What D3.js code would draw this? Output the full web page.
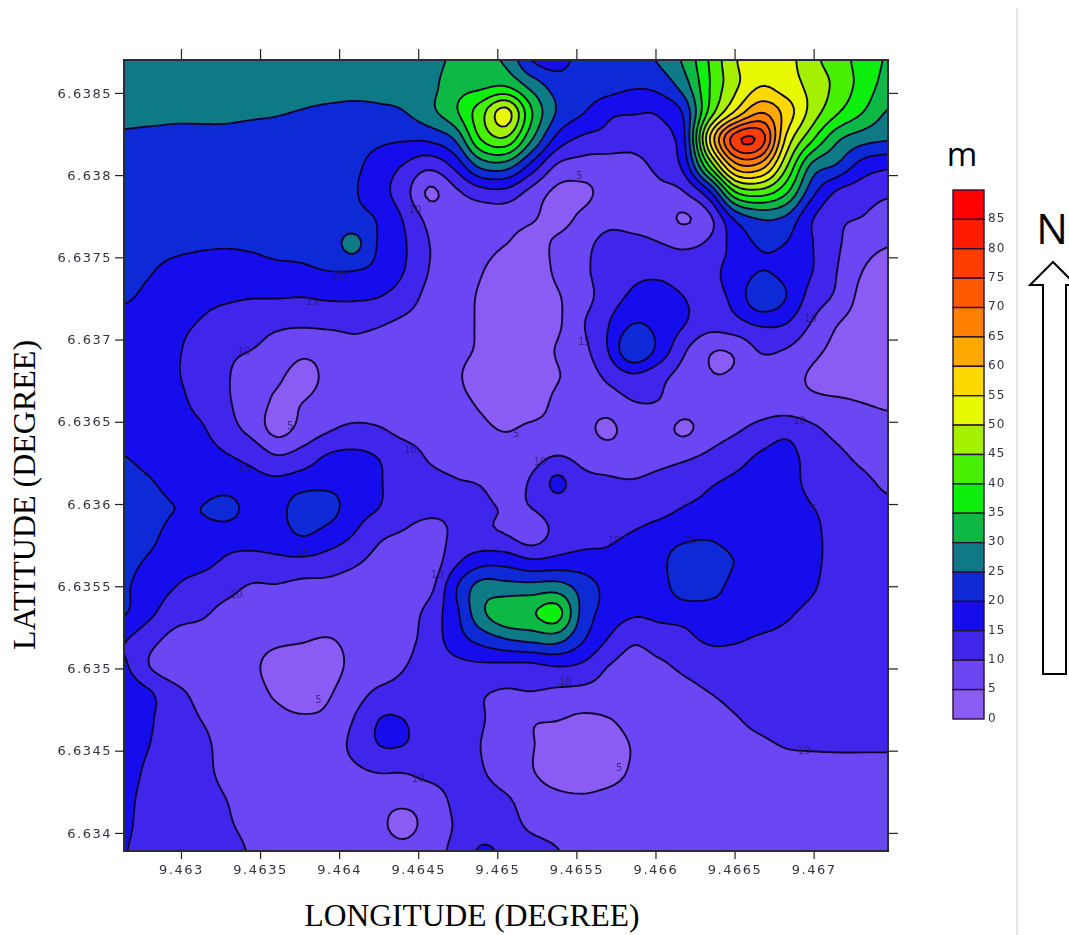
<!DOCTYPE html>
<html>
<head>
<meta charset="utf-8">
<script src="https://cdn.jsdelivr.net/npm/d3@7"></script>
<style>
  body { margin: 0; background: #fff; }
  svg { display: block; }
  .tick text { font-family: "DejaVu Sans", sans-serif; font-size: 13px; letter-spacing: 1.5px; fill: #33333f; }
  .tick line { stroke: #222; stroke-width: 1.2px; }
</style>
</head>
<body>
<svg id="container" width="1069" height="935"></svg>
<script>
// depth values in metres at regular lon/lat nodes (north row first)
var gridValues = [
  [27,27,27,27,27,27,27,27,27,27,27,27,28,31,31,29,20,18,22,23,23,25.5,31,40.5,49.5,54,52,46.5,42.5,38,34.5],
  [27,27,27,27,27,27,27,27,27,26.5,26.5,27,28.5,33,34,35,28.5,23,23,22,20.5,21.5,27.5,40,49,55,52.5,48.5,43.5,38,33],
  [26.5,26.5,26,26,26,25.7,25.3,24.7,24,23.7,24,24.8,28.5,34,43,52,35.5,24.5,20.3,16,15.3,15.5,21,42,56,65,58,48,40.5,35,29.5],
  [24,23.5,23.5,23.5,23.5,23,23,23,23,22,21,20.5,21,25.5,40,44,30.5,18.5,14,13.5,12,13.5,19.5,55,78,78,54,41,31,27,25.5],
  [22,22,22,22,22,22,22,22,22,21,18,14.7,11.5,16.5,26.5,27.5,18.5,9.5,8,7.5,8.5,11.5,17,41,63,63,46,29,24.5,18,16],
  [22,22,22,22,22,22,22,22,22,20.5,17,12,4.3,9,13,13.5,8.5,4,4,6.5,7,8.5,10,19.5,40,43,36,22,14.5,12.5,11],
  [22,22,22,22,22,22,22,22,22,21.5,19.5,14.5,8.5,7.5,7,7,5.5,3.5,6,8.5,8,7.5,4.5,9,21,25.5,24,15.5,11,9.8,7.5],
  [22,21.5,21,20.5,20.3,20.5,21,21,22,26.5,19.5,15.5,10,8,6.5,5,3.5,5.8,8.5,11.5,11.5,10.3,9.3,11,17,20.5,19.8,15.3,10.7,7,5.2],
  [21.5,20.3,18.8,18.3,18.3,18.5,19,19.3,20,20,18.5,15,9.8,7.5,5.3,3,2.5,5.8,9,12,13.8,13.8,12.5,13.7,17,20,18.5,15.2,10,5,3],
  [20.5,19,17.5,16.5,15.8,15.2,15.2,15,15.6,15.7,15,12.5,8.5,7,4.5,2.5,2.2,4.5,8,12.5,16,17,15,13.5,16.5,24,20,13,9,3.5,2],
  [18.5,17.5,16,14.7,12.5,11.5,10.8,10.7,11,11,10.4,9,7.5,6.5,4.5,2.5,2.5,4.2,9.5,14.7,20,18.5,15.2,12,13.5,15.7,15,9.7,5.2,3,2],
  [18,17,15.5,13.5,11,10,8.5,6.2,7,9,8.5,7.5,7,6,4.5,2.5,2.7,5.3,8.5,15,24.5,18.5,10.7,5.5,5.8,10.5,9.7,6.5,3.7,2.5,2.5],
  [18,17.2,15.5,13,10.5,7.5,5.8,3.5,6,7.5,7.5,7,6.5,5.5,3.5,2.2,2.2,4.7,7,11,14,11.5,8,5.3,5.5,7.5,6.5,4.5,2.5,2.5,3],
  [18,17.5,16.5,13.5,10.7,7.5,4.3,5,7,7.5,7.5,7,6.7,6,4.5,2.5,2.5,6,6.5,7.5,9.8,9.8,7.5,7,7,7.5,7,6.2,5.8,5,4.6],
  [18.5,18,17.5,15.7,12,8.5,3.5,6.5,9.4,11,10.4,8.5,8,7,6,4.7,6,6.5,6.5,4,7.5,7,4.2,7.5,9.3,11.5,13.5,11,8.5,6.5,5.8],
  [20,18.7,18,16.8,15.3,13.5,10.1,12,15.3,16,14.7,12,9.5,8.5,8,7.5,8,10,8.5,7.5,7.5,8.2,9,10.8,13,15.5,16.5,13,11,8.8,7],
  [21.5,20.3,18.5,17,17,16.5,16,17.5,18.5,18,15.5,12,11,10.2,9.8,8.5,10.5,16,11.5,10.7,10.3,11.5,13,14.5,15.8,17,17,13.5,12,11,9],
  [22.5,21.5,20,20,22,18,18,23,22,17.5,15,12,11,10.5,10.7,9.7,10,12.5,12.5,13,12.5,13.5,15.2,16,16.5,17.5,17.5,15.2,13.5,12.5,11],
  [22,21,18.5,18,17,17,17.5,20.3,18,15,11,9.5,8,10.8,11,10,7.5,11.5,13,14.3,15.3,17,18.5,19,17,17,17.5,16,13.5,12.5,12],
  [21,19.5,17,16.5,14.5,13.5,14,14,13,11,8.5,7,6.7,13.7,18,18,15.7,16.5,17,16,16.5,18.5,23,23.5,19.8,17.5,17.3,16,13.5,12.5,12],
  [20.5,17.8,15,13,11.5,9.5,9.5,8.5,8.5,7.5,6.5,6,8.5,19.3,27,27,27,27.5,23,18.5,16.5,17.5,23,22.5,18,17,17,15.5,13,12.5,12],
  [20.3,16,12,10.8,8.5,7.5,7,7,7,6.5,6,7,12,18.5,28.5,33.5,34.5,37,23.5,18,15.5,16,16.5,17,17,16.7,15.5,14,12.5,12,12],
  [15.3,11.5,8.5,7.5,6.5,6,5.5,5.2,4.8,5.8,6.3,8.5,12,17.5,21.5,24.5,26,26.5,20.5,14.7,10.7,12.5,14,15.5,15.3,14.5,14,13.5,13,12.5,12],
  [15.7,10,7,6.5,6,5.5,4,3.5,3.7,5.8,7,9.8,12,13.5,14,13.7,13.7,15,14,10,8,9,11,12.5,13,13,13,13,13,12.5,12],
  [18,15.5,11.5,8.5,6.5,6,4.5,3,4.5,7.5,11,12,12.5,12.5,10.5,9.5,9.8,9,8.5,8,7.5,7.5,8.5,10,11.5,12,12.5,12.5,12.5,12.5,12],
  [18,15.5,12.5,10,7.5,6.5,6,5.5,6,10,14.95,14.95,12.5,12.5,10.5,7.5,5.5,5.2,4.2,4.8,6.5,7,7.5,8,9.7,11,12,12,12,12,12],
  [18,15,12.3,11.5,8,7,7,7,7.5,11,14.95,14.95,12.5,12,10,7.5,5.3,3,2.5,3,5.3,6.5,7,8,8.8,9.3,10.2,10.4,10.5,10.5,10.5],
  [17.5,13.8,12.3,11.5,8.7,7.5,7,7,7.5,9,10.2,10.2,11.5,12,10.5,7.5,5.3,3,2.5,3.5,5.5,6.5,7,7.5,8,8,8.5,8.5,8.5,8.5,8.5],
  [16.5,13,12.3,12,10,8,7,7,7,7,6.5,6.5,7.5,11,12,10.5,7.5,6,5.5,6,6.5,6.5,6.5,7,7,7,7,7,7,7,7],
  [16,12.8,12.5,12.3,10.7,8.5,7.5,7,7,7,6,3.5,7,10.3,12.5,12,9,8,7.5,7,7,7,7,7,7,7,7,7,7,7,7],
  [15.2,13,12.7,12.5,12,9.5,8,7.5,7,7,7,6.5,8.5,11,15.5,14,12,10.2,8.5,7.5,7.5,7.5,7.5,7.5,7.5,7.5,7.5,7.5,7.5,7.5,7.5]
];

var lonExtent = [9.46264, 9.46747];
var latExtent = [6.63389, 6.6387];
var lonTicks = [9.463, 9.4635, 9.464, 9.4645, 9.465, 9.4655, 9.466, 9.4665, 9.467];
var latTicks = [6.634, 6.6345, 6.635, 6.6355, 6.636, 6.6365, 6.637, 6.6375, 6.638, 6.6385];

var levels = [0, 5, 10, 15, 20, 25, 30, 35, 40, 45, 50, 55, 60, 65, 70, 75, 80, 85];
var levelColors = ["#8a5cf4", "#6a46f2", "#3f28ea", "#1610ec", "#0c2cd6", "#0a7a86", "#10b844", "#08f008",
  "#44f000", "#a4f000", "#e8f800", "#ffd800", "#ffa800", "#ff8000", "#ff5a00", "#ff3c00", "#ff1e00", "#ff0000"];

// contour labels: lon, lat, text
var labelLon = [9.46694, 9.4645, 9.46577, 9.46387, 9.46335, 9.46462, 9.46369, 9.46445, 9.4634, 9.46377, 9.46512, 9.46527, 9.46574, 9.46623, 9.46698, 9.46691, 9.46698, 9.46383, 9.4634, 9.464, 9.46555, 9.46448, 9.46552, 9.46543];
var labelLat = [6.6345, 6.63433, 6.6344, 6.63481, 6.63545, 6.63557, 6.63648, 6.63633, 6.63622, 6.63571, 6.63643, 6.63626, 6.63578, 6.63578, 6.63597, 6.63651, 6.63713, 6.63723, 6.63693, 6.63739, 6.63699, 6.63779, 6.638, 6.63492];
var labelText = ["10", "10", "5", "5", "10", "10", "5", "10", "15", "15", "5", "10", "15", "20", "15", "10", "10", "15", "10", "20", "15", "10", "5", "10"];

var plotLeft = 124, plotRight = 888, plotTop = 60, plotBottom = 851;
var svg = d3.select("#container");

var x = d3.scaleLinear().domain(lonExtent).range([plotLeft, plotRight]);
var y = d3.scaleLinear().domain(latExtent).range([plotBottom, plotTop]);

var nRows = gridValues.length, nCols = gridValues[0].length;
var factor = 6;

// catmull-rom so the contour lines come out round instead of kinked at grid nodes
var cr = function(a, b, c, d, t) {
  return 0.5 * (2*b + (c-a)*t + (2*a-5*b+4*c-d)*t*t + (3*b-a-3*c+d)*t*t*t);
};
var at = function(r, c) {
  r = Math.max(0, Math.min(nRows-1, r));
  c = Math.max(0, Math.min(nCols-1, c));
  return gridValues[r][c];
};
var sample = function(u, v) {
  var c = Math.min(nCols-2, Math.floor(u)), r = Math.min(nRows-2, Math.floor(v));
  var tx = u-c, ty = v-r, col = [];
  for(var k=-1 ; k<=2 ; k++) {
    col.push(cr(at(r+k, c-1), at(r+k, c), at(r+k, c+1), at(r+k, c+2), tx));
  }
  return cr(col[0], col[1], col[2], col[3], ty);
};

var fineW = (nCols-1)*factor+1, fineH = (nRows-1)*factor+1;
var fine = new Float64Array(fineW*fineH);
for(var j=0 ; j<fineH ; j++) {
  for(var i=0 ; i<fineW ; i++) {
    fine[j*fineW+i] = sample(i/factor, j/factor);
  }
}

var lonAt = d3.scaleLinear().domain([0.5, fineW-0.5]).range(lonExtent);
var latAt = d3.scaleLinear().domain([0.5, fineH-0.5]).range([latExtent[1], latExtent[0]]);
var path = d3.geoPath(d3.geoTransform({
  point: function(px, py) { this.stream.point(x(lonAt(px)), y(latAt(py))); }
}));

svg.append("clipPath").attr("id", "plotClip")
  .append("rect")
  .attr("x", plotLeft).attr("y", plotTop)
  .attr("width", plotRight-plotLeft).attr("height", plotBottom-plotTop);

var defs = svg.append("defs");
defs.append("filter").attr("id", "soft")
  .append("feGaussianBlur").attr("stdDeviation", 0.75);
defs.append("filter").attr("id", "softText")
  .append("feGaussianBlur").attr("stdDeviation", 0.6);

var map = svg.append("g").attr("clip-path", "url(#plotClip)");
var mapInner = map.append("g").attr("filter", "url(#soft)");

var bands = d3.contours().size([fineW, fineH]).thresholds(levels)(fine);

mapInner.selectAll("path")
  .data(bands)
  .enter()
  .append("path")
  .attr("d", path)
  .attr("fill", function(d) { return levelColors[levels.indexOf(d.value)]; })
  .attr("stroke", function(d) { return d.value == 0 ? "none" : "#10062e"; })
  .attr("stroke-width", 1.9);

mapInner.selectAll("text")
  .data(labelText)
  .enter()
  .append("text")
  .attr("x", function(d, i) { return x(labelLon[i]); })
  .attr("y", function(d, i) { return y(labelLat[i]); })
  .attr("dy", ".35em")
  .attr("text-anchor", "middle")
  .attr("font-family", "DejaVu Sans")
  .attr("font-size", 10)
  .attr("fill", "#2a1468")
  .attr("opacity", 0.75)
  .text(function(d) { return d; });

// frame and ticks, the top and right axes carry no labels
svg.append("rect")
  .attr("x", plotLeft).attr("y", plotTop)
  .attr("width", plotRight-plotLeft).attr("height", plotBottom-plotTop)
  .attr("fill", "none")
  .attr("stroke", "#2a2a3a")
  .attr("stroke-width", 2);

var fmt = function(d) { return String(d); };
var bottomAxis = svg.append("g").attr("transform", "translate(0," + plotBottom + ")")
  .call(d3.axisBottom(x).tickValues(lonTicks).tickFormat(fmt).tickSize(8).tickPadding(6));
var leftAxis = svg.append("g").attr("transform", "translate(" + plotLeft + ",0)")
  .call(d3.axisLeft(y).tickValues(latTicks).tickFormat(fmt).tickSize(9).tickPadding(3));
var topAxis = svg.append("g").attr("transform", "translate(0," + plotTop + ")")
  .call(d3.axisTop(x).tickValues(lonTicks).tickFormat("").tickSize(11));
var rightAxis = svg.append("g").attr("transform", "translate(" + plotRight + ",0)")
  .call(d3.axisRight(y).tickValues(latTicks).tickFormat("").tickSize(10));
[bottomAxis, leftAxis, topAxis, rightAxis].forEach(function(a) {
  a.select(".domain").remove();
  a.attr("filter", "url(#softText)");
});

svg.append("text")
  .attr("x", 472).attr("y", 926)
  .attr("text-anchor", "middle")
  .attr("font-family", "Liberation Serif")
  .attr("font-size", 31.5)
  .text("LONGITUDE (DEGREE)");

svg.append("text")
  .attr("transform", "translate(35,495) rotate(-90)")
  .attr("text-anchor", "middle")
  .attr("font-family", "Liberation Serif")
  .attr("font-size", 32)
  .text("LATITUDE (DEGREE)");

// legend
var legendLevels = levels.slice().reverse();
var legendY = d3.scaleBand().domain(legendLevels).range([190, 719]);
var legend = svg.append("g");

legend.selectAll("rect")
  .data(legendLevels)
  .enter()
  .append("rect")
  .attr("x", 953)
  .attr("y", function(d) { return legendY(d); })
  .attr("width", 31)
  .attr("height", legendY.bandwidth())
  .attr("fill", function(d) { return levelColors[levels.indexOf(d)]; })
  .attr("stroke", "#2a1030")
  .attr("stroke-width", 1.4)
  .attr("filter", "url(#softText)");

legend.selectAll("text")
  .data(legendLevels)
  .enter()
  .append("text")
  .attr("x", 988)
  .attr("y", function(d) { return legendY(d)+legendY.bandwidth()+1; })
  .attr("dy", ".15em")
  .attr("font-family", "DejaVu Sans")
  .attr("font-size", 12)
  .attr("letter-spacing", 1)
  .attr("fill", "#33333f")
  .attr("filter", "url(#softText)")
  .text(function(d) { return d; });

svg.append("text")
  .attr("x", 962).attr("y", 166)
  .attr("text-anchor", "middle")
  .attr("font-family", "Open Sans")
  .attr("font-size", 33)
  .text("m");

// side rule and north arrow
svg.append("line")
  .attr("x1", 1017).attr("x2", 1017)
  .attr("y1", 8).attr("y2", 935)
  .attr("stroke", "#e4e4e4")
  .attr("stroke-width", 2);

svg.append("text")
  .attr("x", 1052).attr("y", 244)
  .attr("text-anchor", "middle")
  .attr("font-family", "Open Sans")
  .attr("font-size", 42)
  .text("N");

svg.append("path")
  .attr("d", d3.line()([[1043,674],[1043,285],[1030,285],[1053,262],[1076,285],[1066,285],[1066,674]]) + "Z")
  .attr("fill", "#fff")
  .attr("stroke", "#000")
  .attr("stroke-width", 2);
</script>
</body>
</html>
